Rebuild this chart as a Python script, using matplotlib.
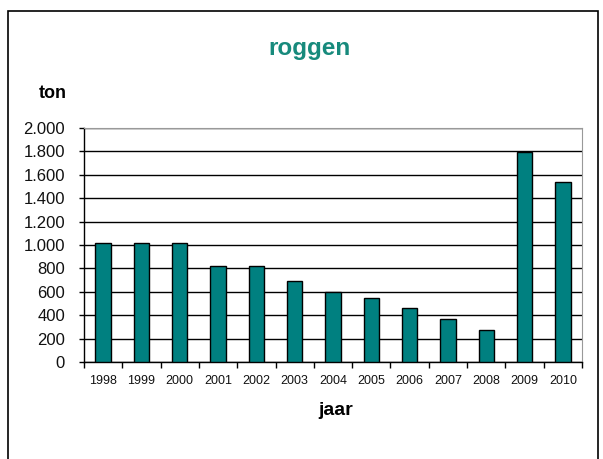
import matplotlib
matplotlib.use("Agg")
import matplotlib.pyplot as plt
from matplotlib.patches import Rectangle
import numpy as np

plt.rcParams['font.family'] = ['Liberation Sans', 'DejaVu Sans']

years = ['1998', '1999', '2000', '2001', '2002', '2003', '2004', '2005', '2006', '2007', '2008', '2009', '2010']
values = [1020, 1020, 1020, 820, 820, 690, 595, 548, 465, 367, 274, 1795, 1538]
yticks = [0, 200, 400, 600, 800, 1000, 1200, 1400, 1600, 1800, 2000]
ytick_labels = ['0', '200', '400', '600', '800', '1.000', '1.200', '1.400', '1.600', '1.800', '2.000']

W, H = 603, 459
fig = plt.figure(figsize=(W / 100, H / 100), dpi=100)
fig.patch.set_facecolor('white')

# outer border
fig.add_artist(Rectangle((8 / W, -0.05), (598 - 8) / W, (H - 11) / H + 0.05,
                         transform=fig.transFigure, fill=False, edgecolor='black', linewidth=1.2))

ax = fig.add_axes([84 / W, (H - 362) / H, (582 - 84) / W, (362 - 128) / H])
x = np.arange(len(years))
ax.bar(x, values, width=0.4, color='#008080', edgecolor='black', linewidth=1.0, zorder=3)

ax.set_xlim(-0.5, len(years) - 0.5)
ax.set_ylim(0, 2000)
ax.set_yticks(yticks)
ax.set_yticklabels(ytick_labels, fontsize=12, color='#111111')
ax.yaxis.grid(True, color='black', linewidth=1.0, zorder=0)
ax.set_axisbelow(True)

ax.set_xticks(x)
ax.set_xticklabels(years, fontsize=9, color='#111111')
ax.set_xticks(np.arange(-0.5, len(years), 1), minor=True)
ax.tick_params(axis='x', which='major', length=0, pad=9)
ax.tick_params(axis='x', which='minor', length=4, direction='out', width=1)
ax.tick_params(axis='y', length=3.6, direction='out', width=1, pad=10)

for s in ['left', 'bottom']:
    ax.spines[s].set_color('black')
    ax.spines[s].set_linewidth(1.0)
for s in ['top', 'right']:
    ax.spines[s].set_color('#999999')
    ax.spines[s].set_linewidth(0.8)

fig.text(310 / W, 1 - 55 / H, 'roggen', ha='center', va='baseline', fontsize=17.5,
         fontweight='bold', color='#178a7c')
fig.text(53 / W, 1 - 98 / H, 'ton', ha='center', va='baseline', fontsize=13, fontweight='bold')
fig.text(336 / W, 1 - 415 / H, 'jaar', ha='center', va='baseline', fontsize=14, fontweight='bold')

fig.savefig('out.png', dpi=100, facecolor='white')
